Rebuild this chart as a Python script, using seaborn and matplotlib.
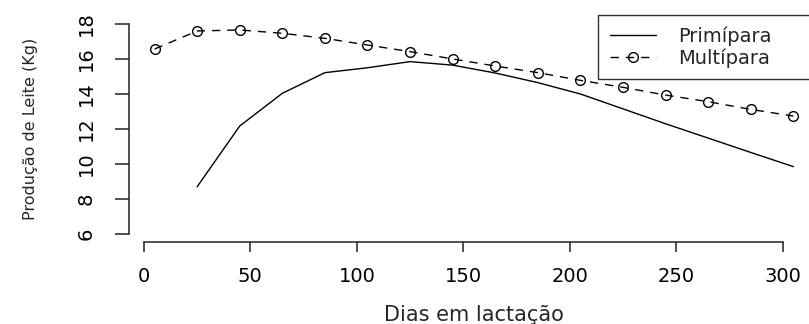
import numpy as np
import pandas as pd
import seaborn as sns
import matplotlib.pyplot as plt

# dados
dias_multi = [5, 25, 45, 65, 85, 105, 125, 145, 165, 185, 205, 225, 245, 265, 285, 305]
multipara = [16.57, 17.6, 17.66, 17.47, 17.18, 16.8, 16.42, 16.0, 15.6, 15.22,
             14.78, 14.38, 13.94, 13.56, 13.12, 12.74]
dias_primi = [25, 45, 65, 85, 105, 125, 145, 165, 185, 205, 225, 245, 265, 285, 305]
primipara = [8.70, 12.17, 14.04, 15.22, 15.5, 15.85, 15.65, 15.2, 14.65, 14.0,
             13.15, 12.3, 11.48, 10.66, 9.85]

xticks = [0, 50, 100, 150, 200, 250, 300]
yticks = [6, 8, 10, 12, 14, 16, 18]

df_primi = pd.DataFrame({'dias': dias_primi, 'leite': primipara})
df_multi = pd.DataFrame({'dias': dias_multi, 'leite': multipara})

sns.set_style('ticks')
plt.rcParams['font.family'] = ['DejaVu Sans']

fig = plt.figure(figsize=(8.09, 3.24), dpi=100)
W, H = 809, 324
ax = fig.add_axes([129 / W, 1 - 242.4 / H, (818.9 - 129) / W, (242.4 - 15.6) / H])

sns.lineplot(data=df_primi, x='dias', y='leite', ax=ax, color='black',
             linewidth=1.0, label='Primípara')
sns.lineplot(data=df_multi, x='dias', y='leite', ax=ax, color='black',
             linewidth=1.0, linestyle=(0, (6, 5)), marker='o', markersize=7,
             markerfacecolor='none', markeredgecolor='black', markeredgewidth=1.0,
             label='Multípara')

ax.set_xlim(-7, 317)
ax.set_ylim(5.52, 18.48)
ax.set_xticks(xticks)
ax.set_yticks(yticks)
ax.spines['top'].set_visible(False)
ax.spines['right'].set_visible(False)
ax.spines['left'].set_bounds(6, 18)
ax.spines['bottom'].set_bounds(0, 300)
for s in ['left', 'bottom']:
    ax.spines[s].set_color('#222222')
    ax.spines[s].set_linewidth(1.1)

ax.tick_params(axis='x', direction='out', length=7.5, width=1.1, pad=10,
               labelsize=14, colors='#222222', labelcolor='black')
ax.tick_params(axis='y', direction='out', length=10, width=1.1, pad=14,
               labelsize=14, colors='#222222', labelcolor='black')
for lab in ax.get_yticklabels():
    lab.set_rotation(90)
    lab.set_va('center')

ax.set_xlabel('Dias em lactação', fontsize=15, labelpad=14)
ax.set_ylabel('Produção de Leite (Kg)', fontsize=11.5, labelpad=28)

leg = ax.legend(loc='upper left', bbox_to_anchor=(598 / W, 0, (819 - 598) / W, 1 - 15 / H),
                bbox_transform=fig.transFigure, mode='expand', frameon=True,
                fancybox=False, edgecolor='black', fontsize=14, handlelength=2.4,
                handletextpad=1.1, borderpad=0.6, labelspacing=0.1, borderaxespad=0)
leg.get_frame().set_linewidth(1.0)

fig.savefig('out.png', dpi=100)
